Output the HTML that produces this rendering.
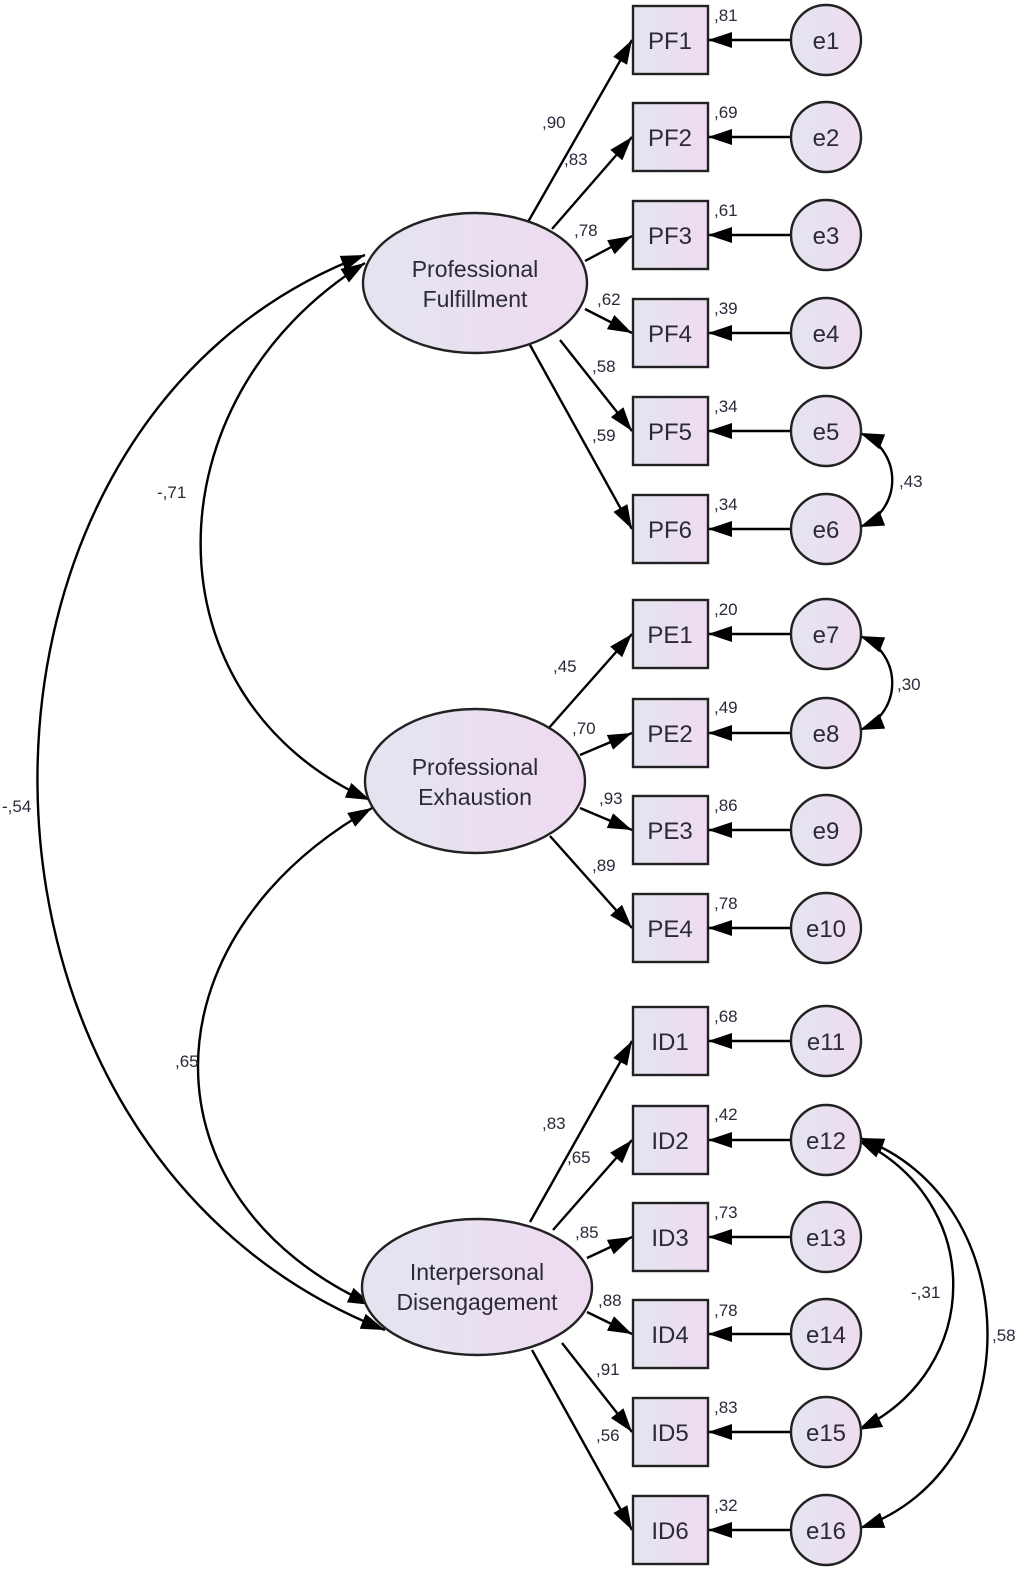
<!DOCTYPE html>
<html><head><meta charset="utf-8"><style>
html,body{margin:0;padding:0;background:#fff;}
svg{display:block;}
text{font-family:"Liberation Sans",Arial,sans-serif;fill:#2a2a3a;}
.c{font-size:17px;}
.b{font-size:24px;}
.l{font-size:23px;}
</style></head><body>
<svg width="1025" height="1569" viewBox="0 0 1025 1569" xmlns="http://www.w3.org/2000/svg">
<defs>
<linearGradient id="g" x1="0" y1="0" x2="1" y2="0">
<stop offset="0" stop-color="#e4e4f0"/><stop offset="1" stop-color="#efdbf1"/>
</linearGradient>
<marker id="a" viewBox="0 0 24 16" refX="24" refY="8" markerWidth="24" markerHeight="16" markerUnits="userSpaceOnUse" orient="auto-start-reverse">
<path d="M0,0 L24,8 L0,16 z" fill="#000"/>
</marker>
</defs>
<g stroke="#000" stroke-width="2.4" fill="none">
<path d="M385,1330 C-75,1150 -75,420 365,255" marker-start="url(#a)" marker-end="url(#a)"/>
<path d="M365,263 C145,400 145,700 370,800" marker-start="url(#a)" marker-end="url(#a)"/>
<path d="M372,808 C140,940 140,1200 372,1305" marker-start="url(#a)" marker-end="url(#a)"/>
<path d="M860,433 C903,450 903,510 860,527" marker-start="url(#a)" marker-end="url(#a)"/>
<path d="M860,636 C903,653 903,713 860,730" marker-start="url(#a)" marker-end="url(#a)"/>
<path d="M858,1140 C985,1200 985,1370 858,1430" marker-start="url(#a)" marker-end="url(#a)"/>
<path d="M860,1138 C1030,1200 1030,1470 860,1528" marker-start="url(#a)" marker-end="url(#a)"/>
<path d="M528,222 L632,40" marker-end="url(#a)"/>
<path d="M552,229 L632,137" marker-end="url(#a)"/>
<path d="M585,261 L632,236" marker-end="url(#a)"/>
<path d="M585,309 L632,333" marker-end="url(#a)"/>
<path d="M560,340 L632,431" marker-end="url(#a)"/>
<path d="M530,345 L632,529" marker-end="url(#a)"/>
<path d="M548,729 L632,634" marker-end="url(#a)"/>
<path d="M580,755 L632,733" marker-end="url(#a)"/>
<path d="M580,808 L632,830" marker-end="url(#a)"/>
<path d="M550,836 L632,928" marker-end="url(#a)"/>
<path d="M530,1222 L632,1041" marker-end="url(#a)"/>
<path d="M553,1230 L632,1140" marker-end="url(#a)"/>
<path d="M587,1258 L632,1237" marker-end="url(#a)"/>
<path d="M587,1312 L632,1334" marker-end="url(#a)"/>
<path d="M562,1343 L632,1432" marker-end="url(#a)"/>
<path d="M532,1350 L632,1530" marker-end="url(#a)"/>
<path d="M790,40 L708,40" marker-end="url(#a)"/>
<path d="M790,137 L708,137" marker-end="url(#a)"/>
<path d="M790,235 L708,235" marker-end="url(#a)"/>
<path d="M790,333 L708,333" marker-end="url(#a)"/>
<path d="M790,431 L708,431" marker-end="url(#a)"/>
<path d="M790,529 L708,529" marker-end="url(#a)"/>
<path d="M790,634 L708,634" marker-end="url(#a)"/>
<path d="M790,733 L708,733" marker-end="url(#a)"/>
<path d="M790,830 L708,830" marker-end="url(#a)"/>
<path d="M790,928 L708,928" marker-end="url(#a)"/>
<path d="M790,1041 L708,1041" marker-end="url(#a)"/>
<path d="M790,1140 L708,1140" marker-end="url(#a)"/>
<path d="M790,1237 L708,1237" marker-end="url(#a)"/>
<path d="M790,1334 L708,1334" marker-end="url(#a)"/>
<path d="M790,1432 L708,1432" marker-end="url(#a)"/>
<path d="M790,1530 L708,1530" marker-end="url(#a)"/>
</g>
<g stroke="#222" stroke-width="2.4" fill="url(#g)">
<ellipse cx="475" cy="283" rx="112" ry="70"/>
<ellipse cx="475" cy="781" rx="110" ry="72"/>
<ellipse cx="477" cy="1287" rx="115" ry="68"/>
<rect x="633" y="6" width="75" height="68"/>
<rect x="633" y="103" width="75" height="68"/>
<rect x="633" y="201" width="75" height="68"/>
<rect x="633" y="299" width="75" height="68"/>
<rect x="633" y="397" width="75" height="68"/>
<rect x="633" y="495" width="75" height="68"/>
<rect x="633" y="600" width="75" height="68"/>
<rect x="633" y="699" width="75" height="68"/>
<rect x="633" y="796" width="75" height="68"/>
<rect x="633" y="894" width="75" height="68"/>
<rect x="633" y="1007" width="75" height="68"/>
<rect x="633" y="1106" width="75" height="68"/>
<rect x="633" y="1203" width="75" height="68"/>
<rect x="633" y="1300" width="75" height="68"/>
<rect x="633" y="1398" width="75" height="68"/>
<rect x="633" y="1496" width="75" height="68"/>
<circle cx="826" cy="40" r="35"/>
<circle cx="826" cy="137" r="35"/>
<circle cx="826" cy="235" r="35"/>
<circle cx="826" cy="333" r="35"/>
<circle cx="826" cy="431" r="35"/>
<circle cx="826" cy="529" r="35"/>
<circle cx="826" cy="634" r="35"/>
<circle cx="826" cy="733" r="35"/>
<circle cx="826" cy="830" r="35"/>
<circle cx="826" cy="928" r="35"/>
<circle cx="826" cy="1041" r="35"/>
<circle cx="826" cy="1140" r="35"/>
<circle cx="826" cy="1237" r="35"/>
<circle cx="826" cy="1334" r="35"/>
<circle cx="826" cy="1432" r="35"/>
<circle cx="826" cy="1530" r="35"/>
</g>
<g text-anchor="middle">
<text x="475" y="277" class="l">Professional</text>
<text x="475" y="307" class="l">Fulfillment</text>
<text x="475" y="775" class="l">Professional</text>
<text x="475" y="805" class="l">Exhaustion</text>
<text x="477" y="1280" class="l">Interpersonal</text>
<text x="477" y="1310" class="l">Disengagement</text>
</g>
<g text-anchor="middle">
<text x="670" y="49" class="b">PF1</text><text x="670" y="146" class="b">PF2</text>
<text x="670" y="244" class="b">PF3</text><text x="670" y="342" class="b">PF4</text>
<text x="670" y="440" class="b">PF5</text><text x="670" y="538" class="b">PF6</text>
<text x="670" y="643" class="b">PE1</text><text x="670" y="742" class="b">PE2</text>
<text x="670" y="839" class="b">PE3</text><text x="670" y="937" class="b">PE4</text>
<text x="670" y="1050" class="b">ID1</text><text x="670" y="1149" class="b">ID2</text>
<text x="670" y="1246" class="b">ID3</text><text x="670" y="1343" class="b">ID4</text>
<text x="670" y="1441" class="b">ID5</text><text x="670" y="1539" class="b">ID6</text>
<text x="826" y="49" class="b">e1</text><text x="826" y="146" class="b">e2</text>
<text x="826" y="244" class="b">e3</text><text x="826" y="342" class="b">e4</text>
<text x="826" y="440" class="b">e5</text><text x="826" y="538" class="b">e6</text>
<text x="826" y="643" class="b">e7</text><text x="826" y="742" class="b">e8</text>
<text x="826" y="839" class="b">e9</text><text x="826" y="937" class="b">e10</text>
<text x="826" y="1050" class="b">e11</text><text x="826" y="1149" class="b">e12</text>
<text x="826" y="1246" class="b">e13</text><text x="826" y="1343" class="b">e14</text>
<text x="826" y="1441" class="b">e15</text><text x="826" y="1539" class="b">e16</text>
</g>
<g>
<text x="714" y="21" class="c">,81</text><text x="714" y="118" class="c">,69</text>
<text x="714" y="216" class="c">,61</text><text x="714" y="314" class="c">,39</text>
<text x="714" y="412" class="c">,34</text><text x="714" y="510" class="c">,34</text>
<text x="714" y="615" class="c">,20</text><text x="714" y="713" class="c">,49</text>
<text x="714" y="811" class="c">,86</text><text x="714" y="909" class="c">,78</text>
<text x="714" y="1022" class="c">,68</text><text x="714" y="1120" class="c">,42</text>
<text x="714" y="1218" class="c">,73</text><text x="714" y="1316" class="c">,78</text>
<text x="714" y="1413" class="c">,83</text><text x="714" y="1511" class="c">,32</text>
<text x="542" y="128" class="c">,90</text><text x="564" y="165" class="c">,83</text>
<text x="574" y="236" class="c">,78</text><text x="597" y="305" class="c">,62</text>
<text x="592" y="372" class="c">,58</text><text x="592" y="441" class="c">,59</text>
<text x="553" y="672" class="c">,45</text><text x="572" y="734" class="c">,70</text>
<text x="599" y="804" class="c">,93</text><text x="592" y="871" class="c">,89</text>
<text x="542" y="1129" class="c">,83</text><text x="567" y="1163" class="c">,65</text>
<text x="575" y="1238" class="c">,85</text><text x="598" y="1306" class="c">,88</text>
<text x="596" y="1375" class="c">,91</text><text x="596" y="1441" class="c">,56</text>
<text x="157" y="498" class="c">-,71</text>
<text x="2" y="812" class="c">-,54</text>
<text x="175" y="1067" class="c">,65</text>
<text x="899" y="487" class="c">,43</text>
<text x="897" y="690" class="c">,30</text>
<text x="911" y="1298" class="c">-,31</text>
<text x="992" y="1341" class="c">,58</text>
</g>
</svg>
</body></html>
